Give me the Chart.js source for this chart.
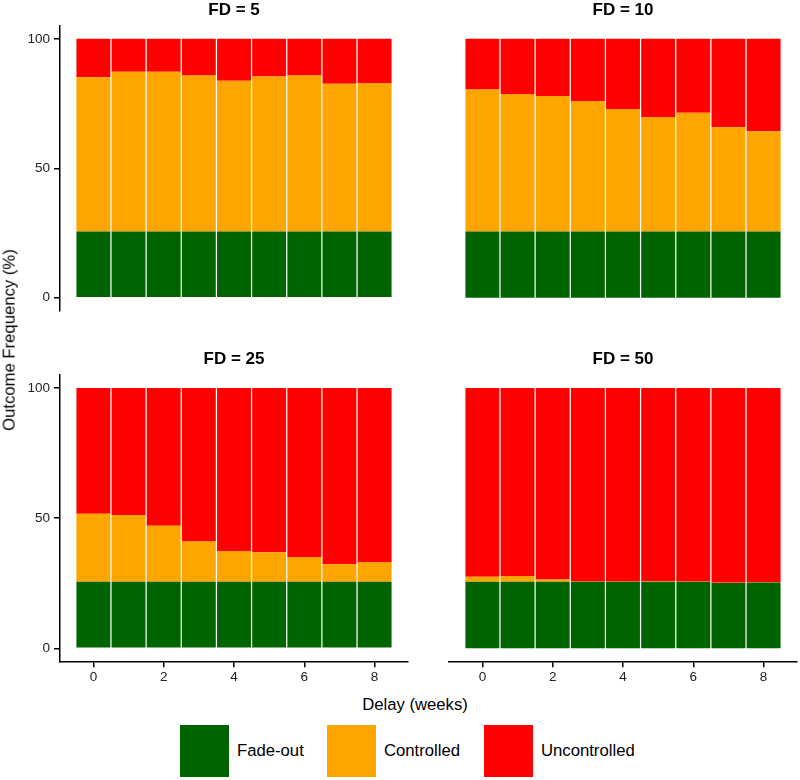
<!DOCTYPE html>
<html>
<head>
<meta charset="utf-8">
<script src="https://cdn.jsdelivr.net/npm/chart.js@4.4.1/dist/chart.umd.min.js"></script>
<style>
  html,body{margin:0;padding:0;background:#fff;}
  body{width:800px;height:780px;position:relative;overflow:hidden;font-family:"Liberation Sans",Arial,Helvetica,sans-serif;color:#000;}
  .panel{position:absolute;}
  .lbl{position:absolute;white-space:nowrap;font-size:16.7px;line-height:1;}
  .box{position:absolute;width:49px;height:52px;}
</style>
</head>
<body>
<div class="panel" style="left:0px;top:0px;"><canvas id="c5" width="420" height="330"></canvas></div>
<div class="panel" style="left:420px;top:0px;"><canvas id="c10" width="380" height="330"></canvas></div>
<div class="panel" style="left:0px;top:330px;"><canvas id="c25" width="420" height="362"></canvas></div>
<div class="panel" style="left:420px;top:330px;"><canvas id="c50" width="380" height="362"></canvas></div>

<div class="lbl" id="ylab" style="left:10px;top:340px;transform:translate(-50%,-50%) rotate(-90deg);">Outcome Frequency (%)</div>
<div class="lbl" id="xlab" style="left:415px;top:705px;transform:translate(-50%,-50%);">Delay (weeks)</div>

<div id="legend"></div>

<script>
// ---------- data ----------
const delays = [0, 1, 2, 3, 4, 5, 6, 7, 8];
const xTickValues = [0, 2, 4, 6, 8];
const yTickValues = [0, 50, 100];
const outcomeNames = ["Fade-out", "Controlled", "Uncontrolled"];
const panelTitles = ["FD = 5", "FD = 10", "FD = 25", "FD = 50"];

const fd5Fade   = [25.6, 25.6, 25.6, 25.6, 25.6, 25.6, 25.6, 25.6, 25.6];
const fd5Ctrl   = [59.6, 61.7, 61.7, 60.2, 58.2, 59.9, 60.2, 57.1, 57.3];
const fd5Unctrl = [14.8, 12.7, 12.7, 14.2, 16.2, 14.5, 14.2, 17.3, 17.1];

const fd10Fade   = [25.6, 25.6, 25.6, 25.6, 25.6, 25.6, 25.6, 25.6, 25.6];
const fd10Ctrl   = [54.8, 53.1, 52.3, 50.4, 47.3, 44.2, 45.9, 40.3, 38.7];
const fd10Unctrl = [19.6, 21.3, 22.1, 24.0, 27.1, 30.2, 28.5, 34.1, 35.7];

const fd25Fade   = [25.6, 25.6, 25.6, 25.6, 25.6, 25.6, 25.6, 25.6, 25.6];
const fd25Ctrl   = [26.1, 25.6, 21.5, 15.4, 11.8, 11.3, 9.5, 6.7, 7.6];
const fd25Unctrl = [48.3, 48.8, 52.9, 59.0, 62.6, 63.1, 64.9, 67.7, 66.8];

const fd50Fade   = [25.6, 25.6, 25.6, 25.6, 25.6, 25.6, 25.6, 25.1, 25.3];
const fd50Ctrl   = [1.9, 2.2, 0.8, 0.1, 0.1, 0.2, 0.1, 0.1, 0.1];
const fd50Unctrl = [72.5, 72.2, 73.6, 74.3, 74.3, 74.2, 74.3, 74.8, 74.6];

// ---------- styling ----------
const COLORS = ["#006400", "#FFA500", "#FF0000"];
const FONT = '"Liberation Sans", Arial, Helvetica, sans-serif';

// legend (HTML)
(function(){
  const lg = document.getElementById('legend');
  const boxX = [180, 327, 483.5];
  const txtX = [237, 384, 541];
  outcomeNames.forEach((n,i)=>{
    const b = document.createElement('div');
    b.className='box'; b.style.left=boxX[i]+'px'; b.style.top='724.5px'; b.style.background=COLORS[i];
    lg.appendChild(b);
    const t = document.createElement('div');
    t.className='lbl'; t.style.left=txtX[i]+'px'; t.style.top='751px'; t.style.transform='translateY(-50%)';
    t.textContent=n; lg.appendChild(t);
  });
})();

function makePanel(canvasId, title, fade, ctrl, unctrl, g){
  const series = [fade, ctrl, unctrl];
  const axisCommon = {
    grid:{display:true, drawOnChartArea:false, drawTicks:true, tickLength:6, color:'#000', lineWidth:1.5, offset:false},
    border:{display:true, color:'#000', width:1.5}
  };
  new Chart(document.getElementById(canvasId), {
    type:'bar',
    data:{
      datasets: series.map((s,k)=>({
        label: outcomeNames[k],
        data: delays.map((d,i)=>({x:d, y:s[i]})),
        backgroundColor: COLORS[k],
        borderWidth: 0,
        barPercentage: 0.965,
        categoryPercentage: 1.0
      }))
    },
    options:{
      responsive:false,
      animation:false,
      events:[],
      layout:{padding:{left:g.padL, right:g.padR, top:g.padT, bottom:g.padB}},
      plugins:{
        legend:{display:false},
        tooltip:{enabled:false},
        title:{
          display:true, text:title, fullSize:false, color:'#000',
          font:{family:FONT, size:17, weight:'bold', lineHeight:1.2},
          padding:{top:0, bottom:5.5}
        }
      },
      scales:{
        x:Object.assign({}, axisCommon, {
          type:'linear', stacked:true, offset:false, min:-0.95, max:8.95,
          display:g.showX,
          afterBuildTicks:(s)=>{ s.ticks = xTickValues.map(v=>({value:v})); },
          afterFit:(s)=>{ s.height = g.showX ? 28 : 0; },
          ticks:{color:'#222', font:{family:FONT, size:13.5}, padding:2, maxRotation:0, autoSkip:false,
                 callback:(v)=>String(v)}
        }),
        y:Object.assign({}, axisCommon, {
          type:'linear', stacked:true, min:-5, max:105,
          display:g.showY,
          afterBuildTicks:(s)=>{ s.ticks = yTickValues.map(v=>({value:v})); },
          afterFit:(s)=>{ s.width = g.showY ? 60 : 0; },
          ticks:{color:'#222', font:{family:FONT, size:13.5}, padding:4, callback:(v)=>String(v)}
        })
      }
    }
  });
}

makePanel('c5',  panelTitles[0], fd5Fade,  fd5Ctrl,  fd5Unctrl,  {showX:false, showY:true,  padL:0,  padR:12, padT:0,    padB:19.3});
makePanel('c10', panelTitles[1], fd10Fade, fd10Ctrl, fd10Unctrl, {showX:false, showY:false, padL:29, padR:3,  padT:0,    padB:19.3});
makePanel('c25', panelTitles[2], fd25Fade, fd25Ctrl, fd25Unctrl, {showX:true,  showY:true,  padL:0,  padR:12, padT:19.1, padB:2.7});
makePanel('c50', panelTitles[3], fd50Fade, fd50Ctrl, fd50Unctrl, {showX:true,  showY:false, padL:29, padR:3,  padT:19.1, padB:2.7});
</script>
</body>
</html>
